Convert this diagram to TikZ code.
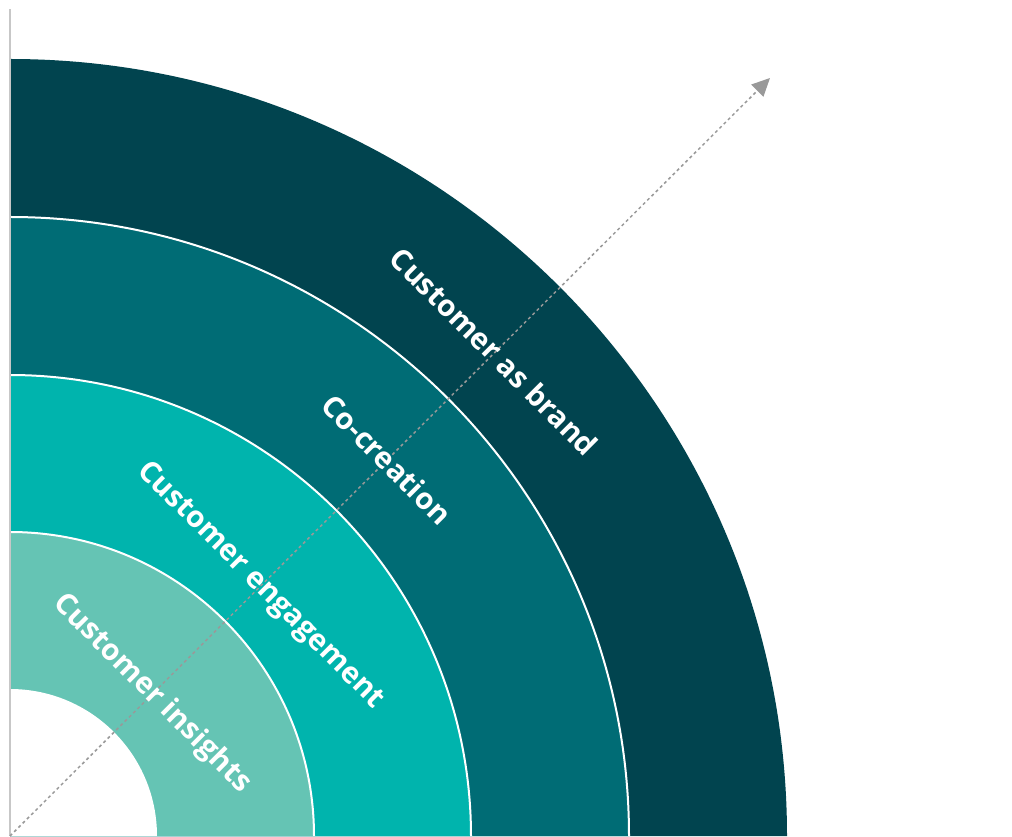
\documentclass[tikz,border=0pt]{standalone}
\usepackage{fontspec}
\setmainfont{Open Sans}
\usetikzlibrary{arrows.meta,calc}
\definecolor{ringbrand}{HTML}{01444F}
\definecolor{ringcocreate}{HTML}{006C75}
\definecolor{ringengage}{HTML}{00B4AD}
\definecolor{ringinsight}{HTML}{65C4B4}
\begin{document}
\begin{tikzpicture}[x=1pt, y=1pt, line join=round, >={Triangle[length=18pt,width=17pt]},
	lbl/.style={text=white, font=\fontsize{29.5}{36}\selectfont\bfseries, rotate=-45, inner sep=0pt}]
	\useasboundingbox (0,0) rectangle (1012,836);
	\coordinate (O) at (10,0);
	\coordinate (top) at (10,827);
	\coordinate (tip) at (770,758);
	% rings, outer first
	\foreach \r/\c in {777/ringbrand,619/ringcocreate,461/ringengage,304/ringinsight}
		\fill[\c] (O) -- ++(\r,0) arc (0:90:\r) -- cycle;
	\foreach \r in {619,461,304}
		\draw[white, line width=2pt] (O) ++(\r,0) arc (0:90:\r);
	\fill[white] (O) -- ++(147,0) arc (0:90:147) -- cycle;
	% axis and arrow
	\draw[black!22, line width=2pt] (O) -- (top);
	\draw[->, black!40, line width=1.5pt, dash pattern=on 3pt off 3pt] (O) -- (tip);
	% labels
	\node[lbl] (brand) at ($(O)+(45:685)$) {Customer as brand};
	\node[lbl] (cocreate) at ($(O)+(45:533)$) {Co-creation};
	\node[lbl] (engage) at ($(O)+(45:354)$) {Customer engagement};
	\node[lbl] (insight) at ($(O)+(45:201)$) {Customer insights};
\end{tikzpicture}
\end{document}
